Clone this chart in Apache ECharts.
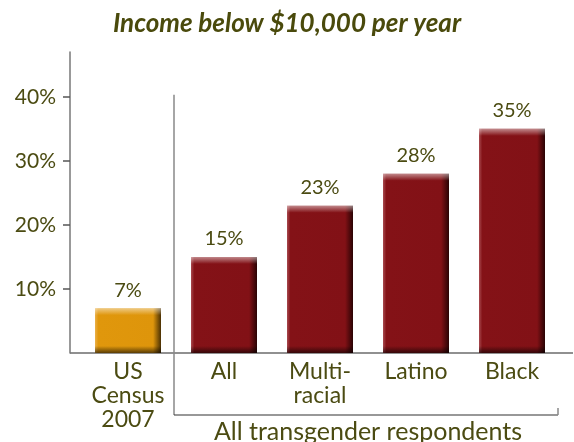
<!DOCTYPE html>
<html>
<head>
<meta charset="utf-8">
<script src="https://cdn.jsdelivr.net/npm/echarts@6/dist/echarts.min.js"></script>
<style>
  html, body { margin: 0; padding: 0; background: #fff; }
  #chart { width: 574px; height: 442px; }
</style>
</head>
<body>
<div id="chart"></div>
<script>
// data
const categories = ["US\nCensus\n2007", "All", "Multi-\nracial", "Latino", "Black"];
const values = [7, 15, 23, 28, 35];
const yTicks = [10, 20, 30, 40];
const groupLabel = "All transgender respondents";

const TEXT = "#4b4b12";
const FONT = "Lato";

function barFill(i) {
  // census bar is gold, the rest dark red
  if (i === 0) {
    return new echarts.graphic.LinearGradient(0, 0, 1, 0, [
      { offset: 0, color: "#eab04a" },
      { offset: 0.05, color: "#e0970c" },
      { offset: 0.88, color: "#de950b" },
      { offset: 1, color: "#4a3003" }
    ]);
  }
  return new echarts.graphic.LinearGradient(0, 0, 1, 0, [
    { offset: 0, color: "#a84a4f" },
    { offset: 0.05, color: "#841217" },
    { offset: 0.88, color: "#821116" },
    { offset: 1, color: "#2a0304" }
  ]);
}

// translucent bevel on top of the bars, edge bands of fixed pixel size
function bevel(hPx) {
  const t = Math.min(0.3, 7 / hPx);
  const b = Math.min(0.3, 7 / hPx);
  return new echarts.graphic.LinearGradient(0, 0, 0, 1, [
    { offset: 0, color: "rgba(255,255,255,0.5)" },
    { offset: t, color: "rgba(255,255,255,0.0)" },
    { offset: 1 - b, color: "rgba(0,0,0,0)" },
    { offset: 1, color: "rgba(0,0,0,0.6)" }
  ]);
}

const chart = echarts.init(document.getElementById("chart"), null, { renderer: "canvas" });

const option = {
  animation: false,
  title: {
    text: "Income below $10,000 per year",
    left: 282,
    textAlign: "center",
    top: 6,
    textStyle: {
      fontFamily: FONT,
      fontStyle: "italic",
      fontWeight: "bold",
      fontSize: 26,
      color: "#4a4a0c"
    }
  },
  grid: { left: 80, right: 14, top: 52, bottom: 89 },
  xAxis: {
    type: "category",
    data: categories,
    axisLine: { show: false },
    axisTick: { show: false },
    axisLabel: {
      interval: 0,
      margin: 7,
      fontFamily: FONT,
      fontSize: 23,
      lineHeight: 24,
      color: TEXT
    }
  },
  yAxis: {
    type: "value",
    min: 0,
    max: 47,
    interval: 10,
    offset: 10,
    splitLine: { show: false },
    axisLine: { show: true, lineStyle: { color: "#777", width: 1.5 } },
    axisTick: {
      show: true,
      length: 7,
      customValues: yTicks,
      lineStyle: { color: "#555", width: 1.5 }
    },
    axisLabel: {
      customValues: yTicks,
      margin: 14,
      fontFamily: FONT,
      fontSize: 21,
      color: TEXT,
      formatter: v => v + "%"
    }
  },
  series: [
    {
      type: "bar",
      barWidth: 66,
      data: values.map((v, i) => ({ value: v, itemStyle: { color: barFill(i) } })),
      label: {
        show: true,
        position: "top",
        distance: 8,
        fontFamily: FONT,
        fontSize: 20,
        color: TEXT,
        formatter: p => p.value + "%"
      }
    },
    {
      type: "bar",
      barWidth: 66,
      barGap: "-100%",
      silent: true,
      data: values
    }
  ]
};
chart.setOption(option);

// axis line, separator and bracket placed from the axis scales
const px = (i, v) => chart.convertToPixel({ gridIndex: 0 }, [i, v]);
const base = px(0, 0);
const top40 = px(0, 40);
const sepX = (px(0, 0)[0] + px(1, 0)[0]) / 2 - 2;
const endX = px(4, 0)[0] + 46;
const midX = (px(1, 0)[0] + px(4, 0)[0]) / 2;
const bracketY = base[1] + 62;

chart.setOption({
  series: [
    {},
    {
      data: values.map((v, i) => ({
        value: v,
        itemStyle: { color: bevel(base[1] - px(i, v)[1]) }
      }))
    }
  ],
  graphic: [
    { type: "line", shape: { x1: 70, y1: base[1], x2: 573, y2: base[1] },
      style: { stroke: "#222", lineWidth: 1.2 } },
    { type: "line", shape: { x1: sepX, y1: top40[1] - 2, x2: sepX, y2: bracketY },
      style: { stroke: "#888", lineWidth: 1.5 } },
    { type: "line", shape: { x1: sepX, y1: bracketY, x2: endX, y2: bracketY },
      style: { stroke: "#333", lineWidth: 1.2 } },
    { type: "line", shape: { x1: endX, y1: bracketY - 7, x2: endX, y2: bracketY },
      style: { stroke: "#888", lineWidth: 1.5 } },
    { type: "text", x: midX, y: bracketY + 17,
      style: { text: groupLabel, fontFamily: FONT, fontSize: 25, fill: TEXT,
               align: "center", verticalAlign: "middle" } }
  ]
});
</script>
</body>
</html>
